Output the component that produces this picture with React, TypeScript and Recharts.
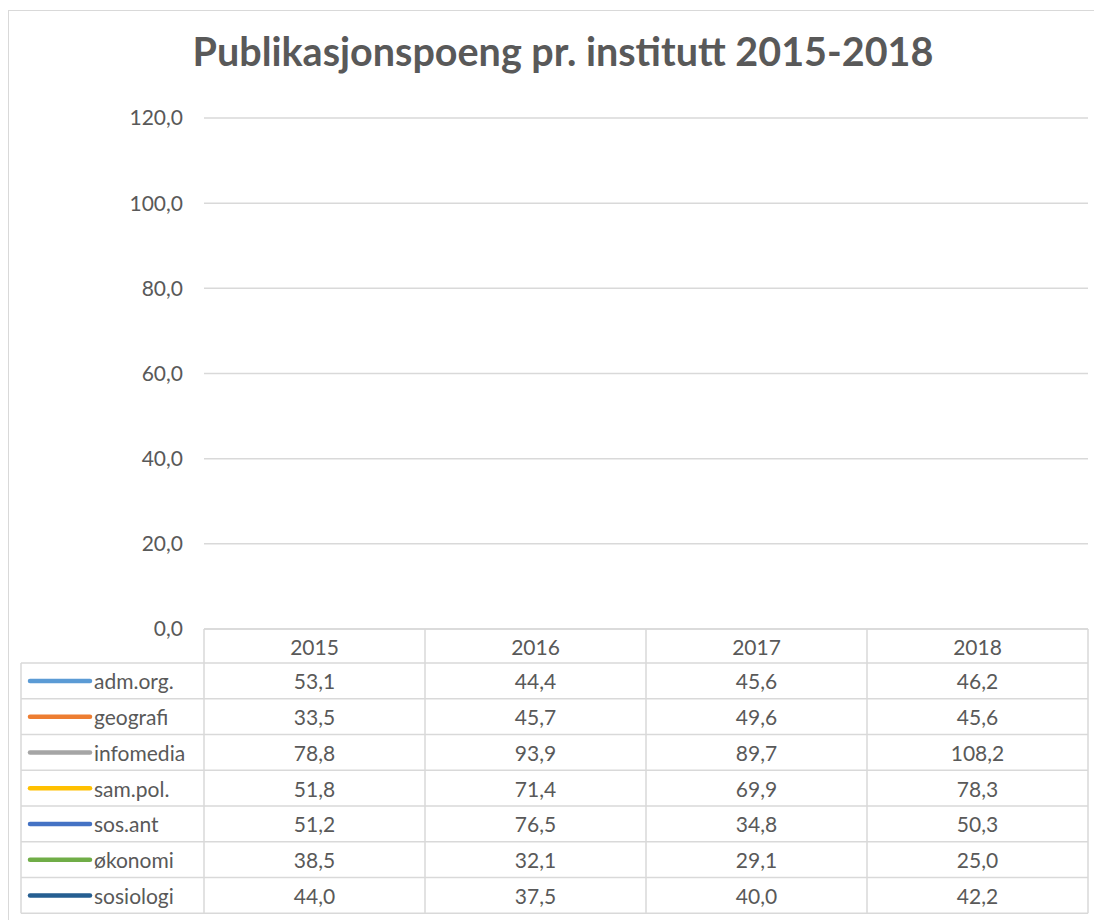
import React from 'react';
import { LineChart, Line, XAxis, YAxis, CartesianGrid } from 'recharts';

const years = ['2015', '2016', '2017', '2018'];
const yTicks = [0, 20, 40, 60, 80, 100, 120];
const seriesNames = ['adm.org.', 'geografi', 'infomedia', 'sam.pol.', 'sos.ant', 'økonomi', 'sosiologi'];
const seriesColors = ['#5B9BD5', '#ED7D31', '#A5A5A5', '#FFC000', '#4472C4', '#70AD47', '#255E91'];

const admOrg = [53.1, 44.4, 45.6, 46.2];
const geografi = [33.5, 45.7, 49.6, 45.6];
const infomedia = [78.8, 93.9, 89.7, 108.2];
const samPol = [51.8, 71.4, 69.9, 78.3];
const sosAnt = [51.2, 76.5, 34.8, 50.3];
const okonomi = [38.5, 32.1, 29.1, 25.0];
const sosiologi = [44.0, 37.5, 40.0, 42.2];
const seriesValues = [admOrg, geografi, infomedia, samPol, sosAnt, okonomi, sosiologi];

const data = years.map((year, i) => {
  const row: Record<string, string | number> = { year };
  seriesValues.forEach((vals, s) => (row['s' + s] = vals[i]));
  return row;
});

const fmt = (v: number) => v.toFixed(1).replace('.', ',');

const FONT = 'Lato, "Open Sans", sans-serif';
const TEXT = '#595959';
const LINE = '#d9d9d9';

// layout (wrapper coords)
const W = 1094;
const H = 912;
const plotLeft = 196;
const plotRight = 1080;
const plotTop = 110;
const plotBottom = 621;
const colW = (plotRight - plotLeft) / years.length;
const tableLeft = 13;
const headerH = 34;
const rowH = 35.75;

function DataTable() {
  const rowsTop = plotBottom + headerH;
  const tableBottom = rowsTop + rowH * seriesNames.length;
  return (
    <svg width={W} height={H} style={{ position: 'absolute', left: 0, top: 0, overflow: 'visible', pointerEvents: 'none' }}>
      {/* heading above the chart, cut off by the page */}
      <text x={120} y={-7} fontFamily={FONT} fontWeight={700} fontSize={28} fill="#000">Publikasjonspoeng</text>
      <line x1={plotLeft} x2={plotRight} y1={plotBottom} y2={plotBottom} stroke={LINE} strokeWidth={1.5} />
      {Array.from({ length: years.length + 1 }).map((_, i) => (
        <line key={'v' + i} x1={plotLeft + i * colW} x2={plotLeft + i * colW} y1={plotBottom} y2={tableBottom} stroke={LINE} strokeWidth={1.5} />
      ))}
      <line x1={tableLeft} x2={tableLeft} y1={rowsTop} y2={tableBottom} stroke={LINE} strokeWidth={1.5} />
      {Array.from({ length: seriesNames.length + 1 }).map((_, i) => (
        <line key={'h' + i} x1={tableLeft} x2={plotRight} y1={rowsTop + i * rowH} y2={rowsTop + i * rowH} stroke={LINE} strokeWidth={1.5} />
      ))}
      {years.map((y, i) => (
        <text key={y} x={plotLeft + (i + 0.5) * colW} y={plotBottom + headerH / 2} textAnchor="middle" dominantBaseline="central" fontFamily={FONT} fontSize={21} fill={TEXT}>{y}</text>
      ))}
      {seriesNames.map((name, s) => {
        const cy = rowsTop + (s + 0.5) * rowH;
        return (
          <g key={name}>
            <line x1={22} x2={82} y1={cy} y2={cy} stroke={seriesColors[s]} strokeWidth={4.5} strokeLinecap="round" />
            <text x={86} y={cy} dominantBaseline="central" fontFamily={FONT} fontSize={21} fill={TEXT}>{name}</text>
            {seriesValues[s].map((v, i) => (
              <text key={i} x={plotLeft + (i + 0.5) * colW} y={cy} textAnchor="middle" dominantBaseline="central" fontFamily={FONT} fontSize={21} fill={TEXT}>{fmt(v)}</text>
            ))}
          </g>
        );
      })}
    </svg>
  );
}

export default function App() {
  return (
    <div style={{ position: 'relative', width: W, height: H, background: '#fff', fontFamily: FONT }}>
      <div style={{ position: 'absolute', left: 0, top: 2, width: W, height: H - 2, borderLeft: `1.5px solid ${LINE}`, borderTop: `1.5px solid ${LINE}`, boxSizing: 'border-box' }} />
      <div style={{ position: 'absolute', left: 0, top: 19, width: 1110, textAlign: 'center', fontSize: 39.5, fontWeight: 700, color: TEXT }}>
        Publikasjonspoeng pr. institutt 2015-2018
      </div>
      <div style={{ position: 'absolute', left: 0, top: 0 }}>
        <LineChart width={W} height={plotBottom + 24} data={data} margin={{ top: plotTop, right: W - plotRight, bottom: 24, left: 0 }}>
          <CartesianGrid vertical={false} stroke={LINE} strokeWidth={1.5} />
          <XAxis dataKey="year" hide height={0} />
          <YAxis
            type="number"
            domain={[0, 120]}
            allowDataOverflow
            ticks={yTicks}
            interval={0}
            width={plotLeft}
            axisLine={false}
            tickLine={false}
            tickSize={6}
            tickMargin={15}
            tickFormatter={fmt}
            tick={{ fill: TEXT, fontSize: 21, fontFamily: FONT }}
          />
          {/* the series exist but the reference shows no plotted lines */}
          {seriesNames.map((name, s) => (
            <Line key={name} dataKey={'s' + s} name={name} stroke={seriesColors[s]} strokeOpacity={0} strokeWidth={3} dot={false} activeDot={false} isAnimationActive={false} />
          ))}
        </LineChart>
      </div>
      <DataTable />
    </div>
  );
}
